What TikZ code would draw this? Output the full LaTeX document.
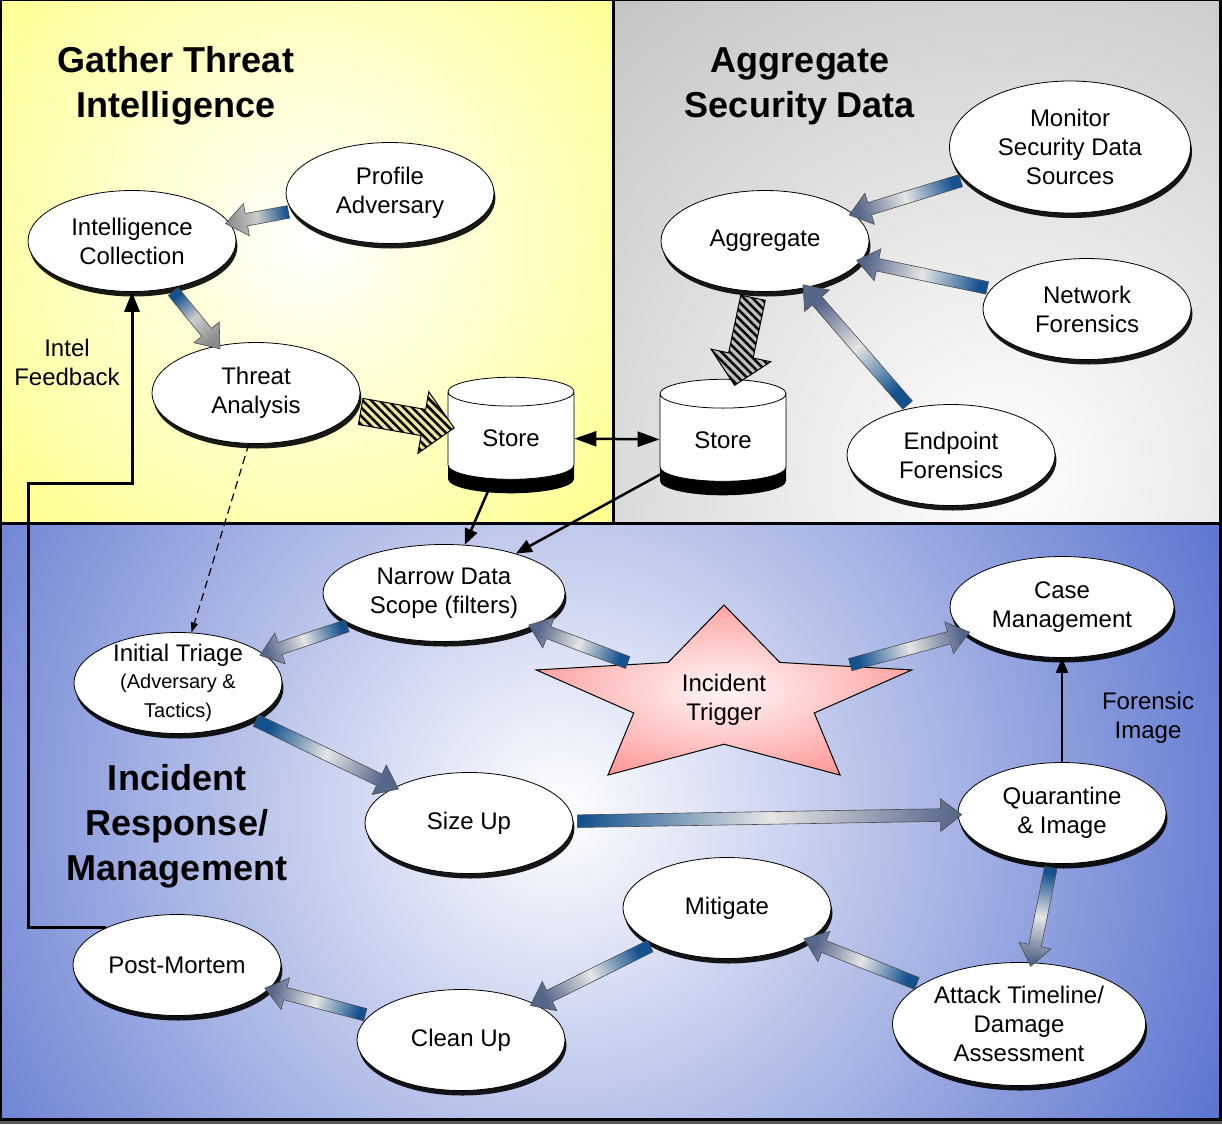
\documentclass[tikz,border=0pt]{standalone}
\usepackage{fontspec}
\setmainfont{Liberation Sans}
\usetikzlibrary{arrows.meta, positioning, calc, shapes.geometric, shapes.arrows, shadows, patterns.meta}
\definecolor{PanelYellow}{rgb}{1.0, 1.0, 0.38}
\definecolor{PanelGray}{rgb}{0.66, 0.66, 0.66}
\definecolor{PanelBlue}{rgb}{0.19, 0.31, 0.76}
\definecolor{FlowBlue}{rgb}{0.08, 0.32, 0.56}
\definecolor{FlowSlate}{rgb}{0.33, 0.40, 0.54}
\definecolor{StarRed}{rgb}{1.0, 0.25, 0.25}
\definecolor{HatchTan}{rgb}{0.92, 0.90, 0.62}

\pgfdeclareradialshading{starglow}{\pgfpoint{0bp}{0bp}}{%
  color(0bp)=(StarRed!4); color(18bp)=(StarRed!35); color(50bp)=(StarRed!95)}

\newcommand{\smalltxt}{\fontsize{20}{25}\selectfont}

% fat arrow between the borders of two nodes
\newcommand{\flowarrow}[3][flow]{%
  \path (#2) -- (#3) coordinate[pos=0] (fa-s) coordinate[pos=1] (fa-e);
  \path let \p1=(fa-s), \p2=(fa-e),
      \n1={atan2(\y2-\y1,\x2-\x1)}, \n2={veclen(\x2-\x1,\y2-\y1)}, \n3={\n1-90} in
    node[#1, rotate=\n1, minimum height=\n2, turn=\n3] at ($(fa-s)!0.5!(fa-e)$) {};
}

\begin{document}
\begin{tikzpicture}[
    x=1pt, y=-1pt,
    font=\fontsize{24}{29}\selectfont,
    turn/.style={},
    stage/.style={ellipse, draw=black, line width=0.8pt, fill=white, align=center,
        inner sep=0pt, minimum width=208pt, minimum height=101pt,
        drop shadow={shadow xshift=1.5pt, shadow yshift=-5pt, opacity=0.9, fill=black}},
    store/.style={cylinder, shape border rotate=90, aspect=0.45, draw=black, line width=0.8pt,
        fill=white, minimum width=126pt, minimum height=102pt,
        drop shadow={shadow xshift=0pt, shadow yshift=-14pt, opacity=1, fill=black}},
    trigger/.style={star, star points=5, star point ratio=2.08, minimum size=188pt,
        inner sep=0pt, draw=black, line width=1pt, shading=starglow, xscale=2.1},
    title/.style={align=center, font=\fontsize{36}{45}\selectfont\bfseries},
    note/.style={align=center},
    flowbase/.style={single arrow, draw=black!70, line width=0.6pt, inner sep=6pt,
        single arrow head extend=10pt, single arrow tip angle=75, turn/.style={shading angle=##1}},
    flow/.style={flowbase, bottom color=FlowBlue, top color=FlowSlate, middle color=black!10},
    paleflow/.style={flowbase, bottom color=FlowBlue, top color=black!45, middle color=black!20},
    hatch/.style={single arrow, draw=black, line width=1pt, inner sep=12pt,
        single arrow head extend=18pt, single arrow tip angle=90, preaction={fill=#1},
        pattern={Lines[angle=-45, distance=6pt, line width=2.5pt]}, pattern color=black},
    link/.style={-{Triangle[length=16pt, width=13pt]}, line width=2.5pt},
    feed/.style={-{Triangle[length=20pt, width=15pt]}, line width=3pt},
    hint/.style={-{Triangle[length=10pt, width=7pt]}, line width=1.2pt, dash pattern=on 8pt off 5pt},
]
\useasboundingbox (0,0) rectangle (1222,1124);
\fill[black!65] (0,0) rectangle (1222,1124);

% --- panels ---
\begin{scope}
  \clip (0,0) rectangle (613,523);
  \shade[inner color=white, outer color=PanelYellow] (310,240) circle[radius=580];
\end{scope}
\begin{scope}
  \clip (613,0) rectangle (1220,523);
  \shade[inner color=white, outer color=PanelGray] (1000,470) circle[radius=900];
\end{scope}
\begin{scope}
  \clip (0,523) rectangle (1220,1119);
  \shade[inner color=white, outer color=PanelBlue] (560,810) circle[radius=920];
\end{scope}
\draw[line width=3pt] (0,0) rectangle (1220,1119);
\draw[line width=3pt] (613,0) -- (613,523);
\draw[line width=3pt] (0,523) -- (1220,523);

% --- titles ---
\node[title] (tgather) at (176,86) {Gather Threat\\Intelligence};
\node[title] (taggr) at (800,86) {Aggregate\\Security Data};
\node[title] (tresp) at (177,826) {Incident\\Response/\\Management};

% ================= GATHER THREAT INTELLIGENCE =================
\node[stage] (pa) at (390,193) {Profile\\Adversary};
\node[stage] (ic) at (132,241) {Intelligence\\Collection};
\node[stage] (ta) at (256,393) {Threat\\Analysis};
\node[store] (sl) at (511,438) {Store};
\node[note] (fbtxt) at (67,362) {Intel\\Feedback};

% ================= AGGREGATE SECURITY DATA =================
\node[stage] (ag) at (765,241) {Aggregate};
\node[stage, minimum width=241pt, minimum height=132pt] (ms) at (1070,147) {Monitor\\Security Data\\Sources};
\node[stage] (nf) at (1087,309) {Network\\Forensics};
\node[stage] (ef) at (951,455) {Endpoint\\Forensics};
\node[store] (sr) at (723,440) {Store};

% ================= INCIDENT RESPONSE =================
\node[stage, minimum width=242pt, minimum height=97pt] (nd) at (444,593) {Narrow Data\\Scope (filters)};
\node[stage, minimum width=224pt] (cm) at (1062,607) {Case\\Management};
\node[stage, inner ysep=-4pt] (it) at (178,683)
    {Initial Triage\\[-2pt]\smalltxt (Adversary \&\\\smalltxt Tactics)};
\node[trigger] (trig) at (724,699) {};
\node[note] (trigtxt) at (724,700) {Incident\\Trigger};
\node[stage] (su) at (469,823) {Size Up};
\node[stage] (qi) at (1062,813) {Quarantine\\\& Image};
\node[note] (fitxt) at (1148,718) {Forensic\\Image};
\node[stage] (mi) at (727,908) {Mitigate};
\node[stage, minimum width=253pt, minimum height=123pt] (at) at (1019,1024) {Attack Timeline/\\Damage\\Assessment};
\node[stage] (pm) at (177,965) {Post-Mortem};
\node[stage] (cu) at (461,1040) {Clean Up};

% --- plain connectors ---
\coordinate (fbturn) at (28,483);
\draw[feed] (pm.152) -| (fbturn) -| (ic.south);
\draw[hint] (ta.262) -- (it.75);
\draw[link] (sl) -- (nd);
\draw[link] (sr) -- (nd);
\draw[{Triangle[length=22pt, width=15pt]}-{Triangle[length=22pt, width=15pt]}, line width=2.5pt] (sl) -- (sr);
\draw[-{Triangle[length=15pt, width=12pt]}, line width=2pt] (qi) -- (cm);

% --- fat arrows ---
\flowarrow[paleflow]{pa}{ic}
\flowarrow[paleflow]{ic}{ta}
\flowarrow[hatch=HatchTan]{ta}{sl}
\flowarrow[hatch=black!25]{ag}{sr}
\flowarrow{ms}{ag}
\flowarrow{nf}{ag}
\flowarrow{ef}{ag}
\flowarrow{nd}{it}
\flowarrow{trig}{nd}
\flowarrow{trig}{cm}
\flowarrow{it}{su}
\flowarrow{su}{qi}
\flowarrow{qi}{at}
\flowarrow{at}{mi}
\flowarrow{mi}{cu}
\flowarrow{cu}{pm}

\end{tikzpicture}
\end{document}
